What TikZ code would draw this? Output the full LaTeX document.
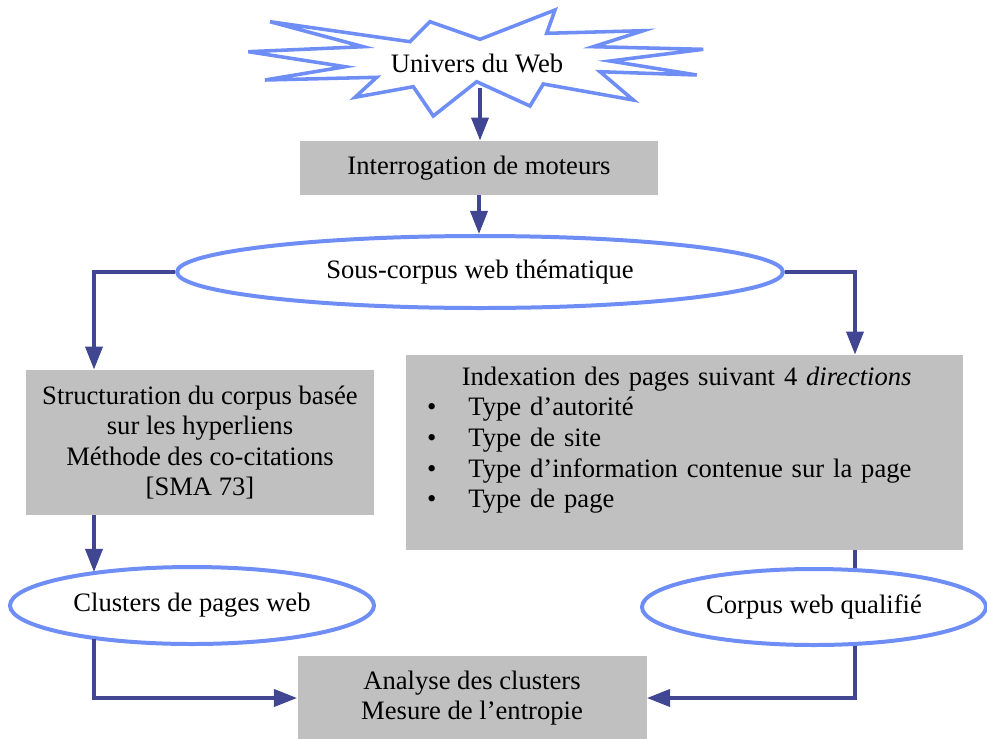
\documentclass[tikz,border=0pt]{standalone}
\usepackage{fontspec}
\setmainfont{Liberation Serif}
\usetikzlibrary{arrows.meta,shapes.geometric}
\definecolor{bulleblue}{RGB}{110,142,246}
\definecolor{flecheblue}{RGB}{64,70,145}
\definecolor{boxgray}{RGB}{192,192,192}
\newcommand{\pxl}{0.451pt}
\tikzset{%
        every node/.style = {font=\fontsize{12pt}{13.8pt}\selectfont},
        lien/.style = {draw=flecheblue, line width=1.6pt},
        flow/.style = {lien, -{Triangle[length=10.4pt,width=7.7pt]}}
}
\tikzstyle{box}=[
    fill = boxgray,
    inner sep = 0pt,
    align = center
]
\tikzstyle{bulle}=[
    ellipse,
    draw = bulleblue,
    line width = 1.8pt,
    fill = white,
    inner sep = 0pt
]
\tikzstyle{eclat}=[
    draw = bulleblue,
    line width = 1.6pt,
    fill = white,
    line join = miter
]
\begin{document}
\begin{tikzpicture}[x=\pxl, y=-\pxl]
            \useasboundingbox (0,0) rectangle (987,738);
            % l'etoile du haut
            \draw[eclat] (270,21.7) -- (410,41.7) -- (430,21.7) -- (480,39.3)
                -- (555,10) -- (546.7,33.3) -- (643.3,30.7) -- (593.3,46.7)
                -- (703.3,49.3) -- (610,61) -- (696.7,75) -- (600,71.7)
                -- (633.3,100) -- (543.3,84) -- (530,106) -- (476.7,81.7)
                -- (433.3,116) -- (413.3,86.7) -- (355,97.3) -- (376.7,77.3)
                -- (265,80) -- (345,66.7) -- (248.3,51.7) -- (363.3,46.7) -- cycle;
            \node (web) at (477,63) {Univers du Web};
            \coordinate (starfoot) at (480,88);
            \coordinate (lft) at (94,0);
            \coordinate (rgt) at (855,0);

            \node[box, minimum width=358*\pxl, minimum height=54*\pxl] (moteurs) at (479,168) {Interrogation de moteurs};
            \node[bulle, minimum width=606*\pxl, minimum height=72*\pxl] (souscorpus) at (480,272) {Sous-corpus web thématique};
            \node[box, minimum width=348*\pxl, minimum height=145*\pxl] (struct) at (200,442.5)
                {Structuration du corpus basée\\sur les hyperliens\\Méthode des co-citations\\{[SMA 73]}};
            \node[box, align=left, text width=515*\pxl, inner xsep=21*\pxl, minimum height=195*\pxl] (index) at (684.5,452.5)
                {\hspace*{15.7pt}Indexation des pages suivant 4 \textit{directions}\\
                 \textbullet\hspace*{14.5pt}Type d'autorité\\
                 \textbullet\hspace*{14.5pt}Type de site\\
                 \textbullet\hspace*{14.5pt}Type d'information contenue sur la page\\
                 \textbullet\hspace*{14.5pt}Type de page\\
                 \mbox{}};
            \node[bulle, minimum width=364*\pxl, minimum height=77*\pxl] (clusters) at (192,605.5) {Clusters de pages web};
            \node[bulle, minimum width=344*\pxl, minimum height=76*\pxl] (qualif) at (814,607) {Corpus web qualifié};
            \node[box, minimum width=349*\pxl, minimum height=84*\pxl] (analyse) at (472,698) {Analyse des clusters\\Mesure de l'entropie};

            \draw[flow] (starfoot) -- (starfoot |- moteurs.north);
            \draw[flow] (moteurs.south) -- (moteurs.south |- souscorpus.north);
            \draw[flow] (souscorpus.west) -| (lft |- struct.north);
            \draw[flow] (souscorpus.east) -| (rgt |- index.north);
            \draw[flow] (lft |- struct.south) -- (lft |- clusters.162);
            \draw[lien] (rgt |- index.south) -- (rgt |- qualif.42);
            \draw[flow] (lft |- clusters.-162) |- (analyse.west);
            \draw[flow] (rgt |- qualif.-42) |- (analyse.east);
        \end{tikzpicture}
\end{document}
